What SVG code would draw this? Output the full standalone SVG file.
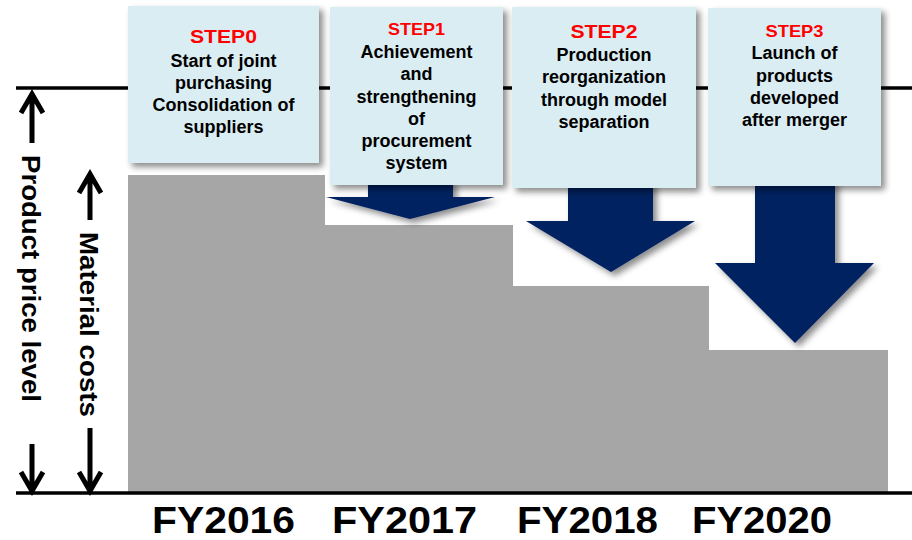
<svg xmlns="http://www.w3.org/2000/svg" width="912" height="540" viewBox="0 0 912 540">
<defs>
<filter id="sh" x="-20%" y="-20%" width="150%" height="150%">
<feDropShadow dx="4" dy="4" stdDeviation="3" flood-color="#000" flood-opacity="0.45"/>
</filter>
<style>
.bar{fill:#a6a6a6}
.box{fill:#daedf3;filter:url(#sh)}
.arr{fill:#002060;filter:url(#sh)}
.axis{stroke:#000;stroke-width:3.5;fill:none}
.ind{stroke:#000;stroke-width:5;fill:none;stroke-linecap:butt;stroke-linejoin:miter}
.step{font-family:"Liberation Sans",Arial,sans-serif;font-weight:bold;fill:#ff0000;text-anchor:middle}
.body{font-family:"Liberation Sans",Arial,sans-serif;font-weight:bold;font-size:18px;fill:#000;text-anchor:middle}
.side{font-family:"Liberation Sans",Arial,sans-serif;font-weight:bold;font-size:26px;fill:#000}
.fy{font-family:"Liberation Sans",Arial,sans-serif;font-weight:bold;font-size:36px;fill:#000}
</style>
</defs>

<g id="bars">
<rect class="bar" x="128" y="175" width="197" height="318"/>
<rect class="bar" x="325" y="225" width="188" height="268"/>
<rect class="bar" x="513" y="286" width="196" height="207"/>
<rect class="bar" x="709" y="350" width="179" height="143"/>
</g>

<g id="axes">
<line class="axis" x1="16" y1="88" x2="912" y2="88"/>
<line class="axis" x1="16" y1="493" x2="912" y2="493"/>
</g>

<g id="connectors">
<path class="arr" d="M368,180 H453 V197 H495 L410,219 L326,197 H368 Z"/>
<path class="arr" d="M568,180 H653 V221 H695 L611,272 L526,221 H568 Z"/>
<path class="arr" d="M755,180 H835 V263 H874 L795,343 L715,263 H755 Z"/>
</g>

<g id="step0">
<rect class="box" x="128" y="6" width="191" height="157"/>
<text class="step" x="223.5" y="43" font-size="19" textLength="67" lengthAdjust="spacingAndGlyphs">STEP0</text>
<text class="body" x="223.5" y="67">Start of joint</text>
<text class="body" x="223.5" y="89">purchasing</text>
<text class="body" x="223.5" y="111">Consolidation of</text>
<text class="body" x="223.5" y="133">suppliers</text>
</g>

<g id="step1">
<rect class="box" x="330" y="7" width="173" height="178"/>
<text class="step" x="416.5" y="35" font-size="16.5" textLength="57" lengthAdjust="spacingAndGlyphs">STEP1</text>
<text class="body" x="416.5" y="58">Achievement</text>
<text class="body" x="416.5" y="80">and</text>
<text class="body" x="416.5" y="103">strengthening</text>
<text class="body" x="416.5" y="125">of</text>
<text class="body" x="416.5" y="147">procurement</text>
<text class="body" x="416.5" y="169">system</text>
</g>

<g id="step2">
<rect class="box" x="512" y="7" width="184" height="181"/>
<text class="step" x="604" y="38" font-size="19" textLength="67" lengthAdjust="spacingAndGlyphs">STEP2</text>
<text class="body" x="604" y="61">Production</text>
<text class="body" x="604" y="83">reorganization</text>
<text class="body" x="604" y="106">through model</text>
<text class="body" x="604" y="128">separation</text>
</g>

<g id="step3">
<rect class="box" x="708" y="8" width="173" height="178"/>
<text class="step" x="794.5" y="37" font-size="16.5" textLength="58" lengthAdjust="spacingAndGlyphs">STEP3</text>
<text class="body" x="794.5" y="59">Launch of</text>
<text class="body" x="794.5" y="82">products</text>
<text class="body" x="794.5" y="104">developed</text>
<text class="body" x="794.5" y="126">after merger</text>
</g>

<g id="price-label">
<path class="ind" d="M32,94 V143 M21,113 L32,94 L43,113"/>
<text class="side" transform="translate(22,155) rotate(90)" textLength="247" lengthAdjust="spacingAndGlyphs">Product price level</text>
<path class="ind" d="M32,444 V490 M21,472 L32,491 L43,472"/>
</g>

<g id="material-label">
<path class="ind" d="M90,174 V220 M79,193 L90,174 L101,193"/>
<text class="side" transform="translate(80,232) rotate(90)" textLength="185" lengthAdjust="spacingAndGlyphs">Material costs</text>
<path class="ind" d="M90,428 V490 M79,472 L90,491 L101,472"/>
</g>

<g id="years">
<text class="fy" x="152" y="533" textLength="143" lengthAdjust="spacingAndGlyphs">FY2016</text>
<text class="fy" x="332" y="533" textLength="145" lengthAdjust="spacingAndGlyphs">FY2017</text>
<text class="fy" x="517" y="533" textLength="141" lengthAdjust="spacingAndGlyphs">FY2018</text>
<text class="fy" x="692" y="533" textLength="140" lengthAdjust="spacingAndGlyphs">FY2020</text>
</g>
</svg>
